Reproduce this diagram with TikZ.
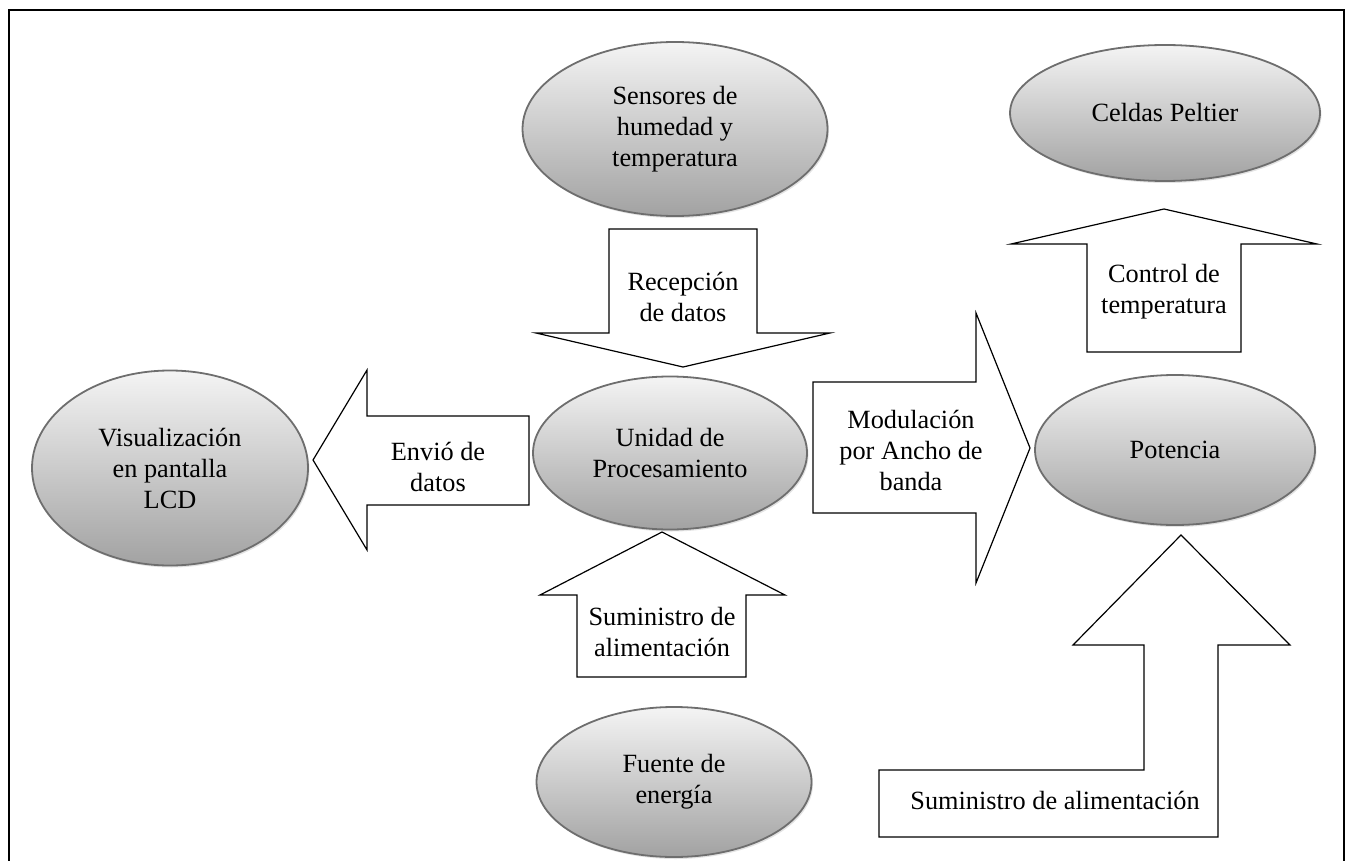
\documentclass[tikz,border=0pt]{standalone}
\usepackage{fontspec}
\setmainfont{Liberation Serif}
\usetikzlibrary{shapes.geometric,shadows}
\definecolor{Rim}{HTML}{6E6E6E}
\definecolor{TopGray}{HTML}{F4F4F4}
\definecolor{LowGray}{HTML}{A2A2A2}

\begin{document}
\begin{tikzpicture}[x=1pt,y=-1pt,
  every node/.style={font=\fontsize{26.3}{31}\selectfont},
  oval/.style={ellipse,draw=Rim,line width=1.8pt,top color=TopGray,bottom color=LowGray,
    inner sep=0pt,align=center,drop shadow={shadow xshift=1.5pt,shadow yshift=-2pt,fill=black!22}},
  blockarrow/.style={draw,line width=1.2pt,fill=white,line join=miter}]
\useasboundingbox (0,0) rectangle (1348,861);
\draw[line width=1.5pt] (9,10) rectangle (1344,880);
% block arrows
\draw[blockarrow] (609,229) -- (757,229) -- (757,333) -- (830,333) -- (683,367) -- (536,333) -- (609,333) -- cycle;
\node[align=center] (recep) at (683,297) {Recepción\\de datos};
\draw[blockarrow] (529,416) -- (367,416) -- (367,370) -- (313,460) -- (367,550) -- (367,505) -- (529,505) -- cycle;
\node[align=center] (envio) at (438,467) {Envió de\\datos};
\draw[blockarrow] (813,382) -- (976,382) -- (976,313) -- (1030,448) -- (976,583) -- (976,513) -- (813,513) -- cycle;
\node[align=center] (pwm) at (911,450) {Modulación\\por Ancho de\\banda};
\draw[blockarrow] (577,677) -- (577,595) -- (540,595) -- (662,532) -- (785,595) -- (746,595) -- (746,677) -- cycle;
\node[align=center] (sumuc) at (662,632) {Suministro de\\alimentación};
\draw[blockarrow] (1087,352) -- (1087,244) -- (1011,244) -- (1164,209) -- (1317,244) -- (1241,244) -- (1241,352) -- cycle;
\node[align=center] (ctrl) at (1164,292) {Control de\\temperatura};
\draw[blockarrow] (879,770) -- (1144,770) -- (1144,645) -- (1073,645) -- (1181,535) -- (1290,645) -- (1218,645) -- (1218,837) -- (879,837) -- cycle;
\node (sumpot) at (1055,800) {Suministro de alimentación};
% ellipses
\node[oval,minimum width=305pt,minimum height=174pt] (sens) at (675,129) {Sensores de\\humedad y\\temperatura};
\node[oval,minimum width=274pt,minimum height=153pt] (uproc) at (670,453) {Unidad de\\Procesamiento};
\node[oval,minimum width=276pt,minimum height=195pt] (lcd) at (170,468) {Visualización\\en pantalla\\LCD};
\node[oval,minimum width=275pt,minimum height=150pt] (fuente) at (674,782) {Fuente de\\energía};
\node[oval,minimum width=280pt,minimum height=150pt] (pot) at (1175,450) {Potencia};
\node[oval,minimum width=310pt,minimum height=136pt] (peltier) at (1165,113) {Celdas Peltier};
\end{tikzpicture}
\end{document}
